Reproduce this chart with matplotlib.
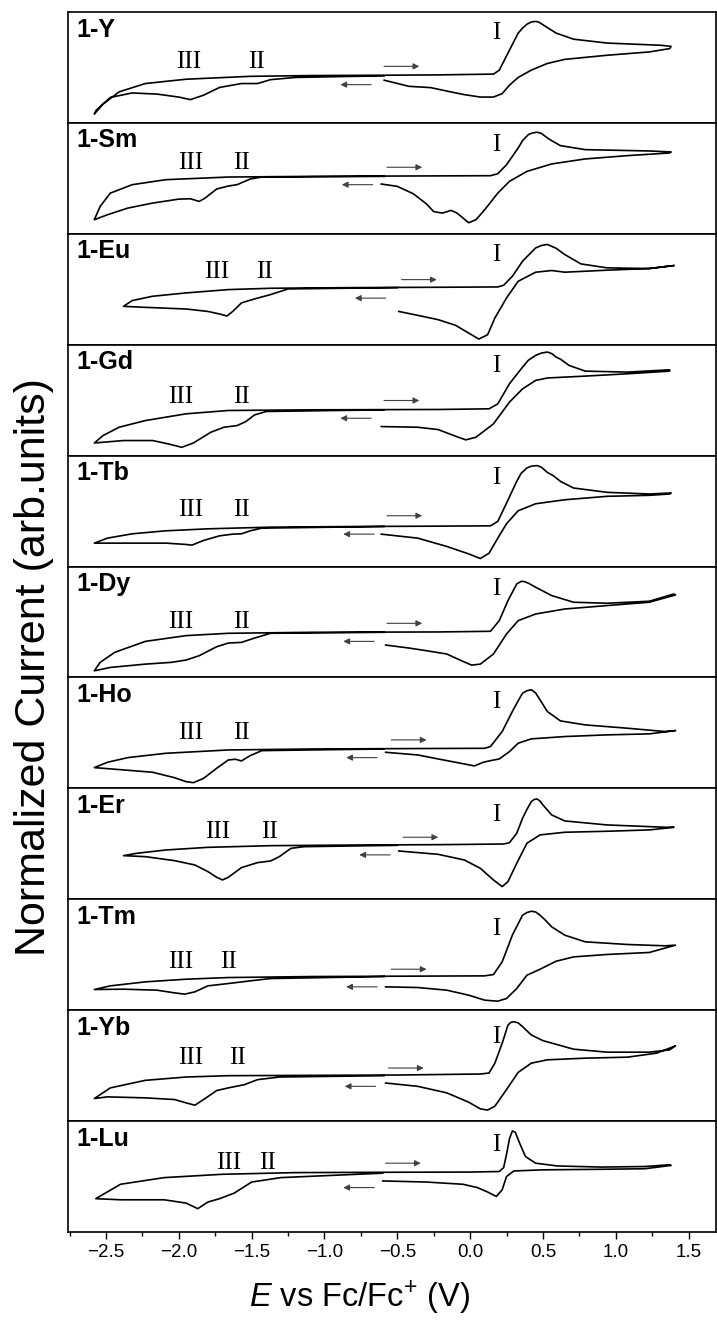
"""
Cyclic voltammograms of the 1-Ln series, stacked panels.
Currents are read off the reference picture, in panel units (0 = bottom, 1 = top).
"""

import matplotlib
matplotlib.use('Agg')
import matplotlib.pyplot as plt
from matplotlib.ticker import MultipleLocator

plt.rcParams['font.family'] = ['Liberation Sans', 'DejaVu Sans']
plt.rcParams['mathtext.fontset'] = 'custom'
plt.rcParams['mathtext.rm'] = 'Liberation Sans'
plt.rcParams['mathtext.it'] = 'Liberation Sans:italic'

names = ['1-Y', '1-Sm', '1-Eu', '1-Gd', '1-Tb', '1-Dy', '1-Ho', '1-Er', '1-Tm', '1-Yb', '1-Lu']

# each trace: start at the gap near -0.6 V, out to +1.4 V, back to -2.6 V, then up to -0.6 V
E_Y = [-0.59, -0.42, -0.27, -0.13, -0.04, 0.07, 0.16, 0.22, 0.27, 0.33, 0.42, 0.53, 0.65, 0.94, 1.23, 1.37,
       1.38, 1.31, 0.94, 0.71, 0.59, 0.53, 0.50, 0.47, 0.45, 0.42, 0.39, 0.36, 0.33, 0.26, 0.20, 0.16, -0.22, -0.59,
       -1.08, -1.51, -1.95, -2.23, -2.41, -2.52, -2.58,
       -2.57, -2.47, -2.32, -2.15, -2.00, -1.92, -1.83, -1.72, -1.57, -1.46, -1.37, -1.20, -0.79, -0.59]
I_Y = [0.385, 0.33, 0.318, 0.279, 0.255, 0.233, 0.233, 0.264, 0.34, 0.41, 0.476, 0.536, 0.573, 0.61, 0.64, 0.67,
       0.69, 0.70, 0.72, 0.755, 0.81, 0.86, 0.885, 0.91, 0.915, 0.91, 0.89, 0.855, 0.81, 0.63, 0.475, 0.44, 0.433,
       0.43, 0.427, 0.42, 0.394, 0.355, 0.28, 0.17, 0.08,
       0.11, 0.23, 0.27, 0.26, 0.233, 0.21, 0.25, 0.32, 0.355, 0.355, 0.39, 0.41, 0.42, 0.424]

E_Sm = [-0.61, -0.50, -0.39, -0.30, -0.25, -0.19, -0.13, -0.09, -0.01, 0.04, 0.10, 0.19, 0.27, 0.39, 0.56, 0.79,
        1.08, 1.37,
        1.38, 1.23, 0.79, 0.62, 0.56, 0.53, 0.49, 0.46, 0.43, 0.40, 0.36, 0.33, 0.25, 0.19, 0.14, -0.50, -1.08,
        -1.66, -2.09, -2.32, -2.47, -2.54, -2.58,
        -2.49, -2.35, -2.18, -2.00, -1.92, -1.86, -1.82, -1.74, -1.66, -1.60, -1.51, -1.43, -0.59]
I_Sm = [0.449, 0.428, 0.361, 0.27, 0.20, 0.187, 0.211, 0.187, 0.10, 0.127, 0.217, 0.367, 0.473, 0.563, 0.63, 0.675,
        0.705, 0.729,
        0.738, 0.747, 0.759, 0.795, 0.84, 0.865, 0.905, 0.916, 0.91, 0.895, 0.84, 0.774, 0.623, 0.542, 0.524, 0.521,
        0.518, 0.512, 0.488, 0.443, 0.367, 0.247, 0.127,
        0.172, 0.232, 0.277, 0.313, 0.316, 0.292, 0.322, 0.404, 0.431, 0.443, 0.494, 0.512, 0.518]

E_Eu = [-0.49, -0.36, -0.22, -0.10, -0.01, 0.06, 0.12, 0.17, 0.25, 0.33, 0.45, 0.56, 0.65, 0.94, 1.23, 1.40,
        1.23, 0.94, 0.76, 0.65, 0.59, 0.53, 0.49, 0.45, 0.36, 0.29, 0.23, 0.19, -0.22, -0.79, -1.37, -1.66, -1.95,
        -2.18, -2.32, -2.38,
        -2.23, -1.95, -1.80, -1.72, -1.67, -1.63, -1.57, -1.48, -1.37, -1.25, -0.50]
I_Eu = [0.30, 0.265, 0.226, 0.175, 0.105, 0.051, 0.09, 0.241, 0.422, 0.572, 0.654, 0.669, 0.654, 0.672, 0.687, 0.714,
        0.687, 0.693, 0.729, 0.813, 0.87, 0.904, 0.895, 0.873, 0.753, 0.617, 0.536, 0.521, 0.518, 0.515, 0.509,
        0.497, 0.467, 0.437, 0.398, 0.346,
        0.337, 0.322, 0.30, 0.277, 0.259, 0.30, 0.377, 0.413, 0.452, 0.503, 0.515]

E_Gd = [-0.61, -0.36, -0.22, -0.10, -0.03, 0.04, 0.16, 0.27, 0.36, 0.45, 0.53, 0.79, 1.08, 1.37,
        1.37, 1.08, 0.79, 0.68, 0.62, 0.59, 0.56, 0.53, 0.49, 0.45, 0.40, 0.36, 0.27, 0.19, 0.13, -0.22, -1.08,
        -1.66, -1.95, -2.23, -2.41, -2.52, -2.58,
        -2.38, -2.18, -2.07, -1.98, -1.90, -1.78, -1.69, -1.60, -1.54, -1.48, -1.40, -0.59]
I_Gd = [0.262, 0.256, 0.235, 0.175, 0.142, 0.166, 0.286, 0.482, 0.602, 0.678, 0.70, 0.717, 0.738, 0.762,
        0.774, 0.753, 0.762, 0.813, 0.87, 0.889, 0.92, 0.934, 0.925, 0.904, 0.86, 0.798, 0.648, 0.467, 0.422, 0.416,
        0.413, 0.407, 0.377, 0.316, 0.256, 0.181, 0.114,
        0.136, 0.136, 0.105, 0.075, 0.114, 0.211, 0.256, 0.271, 0.307, 0.367, 0.398, 0.413]

E_Tb = [-0.61, -0.36, -0.16, -0.01, 0.07, 0.13, 0.19, 0.25, 0.33, 0.45, 0.65, 0.94, 1.23, 1.37,
        1.38, 1.23, 0.94, 0.71, 0.62, 0.57, 0.53, 0.49, 0.46, 0.42, 0.39, 0.35, 0.32, 0.25, 0.19, 0.14, -0.22,
        -0.79, -1.37, -1.80, -2.09, -2.32, -2.49, -2.58,
        -2.38, -2.09, -1.95, -1.91, -1.83, -1.72, -1.63, -1.57, -1.51, -1.43, -0.59]
I_Tb = [0.292, 0.256, 0.181, 0.114, 0.072, 0.12, 0.256, 0.386, 0.503, 0.566, 0.602, 0.633, 0.642, 0.654,
        0.663, 0.654, 0.669, 0.708, 0.768, 0.82, 0.849, 0.895, 0.910, 0.905, 0.889, 0.84, 0.768, 0.572, 0.407,
        0.367, 0.364, 0.361, 0.355, 0.34, 0.322, 0.295, 0.256, 0.211,
        0.211, 0.211, 0.199, 0.193, 0.235, 0.277, 0.292, 0.295, 0.322, 0.346, 0.361]

E_Dy = [-0.58, -0.42, -0.30, -0.16, -0.07, 0.01, 0.07, 0.16, 0.25, 0.33, 0.45, 0.65, 0.94, 1.23, 1.41,
        1.40, 1.23, 0.94, 0.71, 0.56, 0.45, 0.40, 0.37, 0.35, 0.32, 0.26, 0.20, 0.14, -0.22, -1.08, -1.66, -1.95,
        -2.23, -2.44, -2.54, -2.58,
        -2.47, -2.23, -2.05, -1.95, -1.86, -1.74, -1.66, -1.57, -1.48, -1.37, -0.59]
I_Dy = [0.292, 0.265, 0.241, 0.211, 0.157, 0.111, 0.12, 0.211, 0.392, 0.512, 0.572, 0.617, 0.648, 0.678, 0.744,
        0.753, 0.687, 0.669, 0.678, 0.738, 0.813, 0.85, 0.865, 0.866, 0.843, 0.693, 0.512, 0.416, 0.41, 0.407,
        0.398, 0.377, 0.325, 0.226, 0.136, 0.06,
        0.09, 0.12, 0.136, 0.157, 0.196, 0.277, 0.31, 0.316, 0.355, 0.398, 0.407]

E_Ho = [-0.58, -0.36, -0.22, -0.10, 0.03, 0.09, 0.13, 0.20, 0.27, 0.33, 0.42, 0.65, 0.94, 1.23, 1.41,
        1.34, 1.08, 0.79, 0.62, 0.53, 0.48, 0.45, 0.42, 0.39, 0.36, 0.33, 0.29, 0.22, 0.14, 0.10, -0.50, -1.08,
        -1.66, -2.09, -2.35, -2.49, -2.58,
        -2.38, -2.18, -2.03, -1.95, -1.90, -1.83, -1.74, -1.66, -1.61, -1.57, -1.51, -1.43, -0.59]
I_Ho = [0.325, 0.301, 0.265, 0.235, 0.202, 0.235, 0.247, 0.265, 0.331, 0.407, 0.446, 0.467, 0.482, 0.491, 0.521,
        0.512, 0.542, 0.572, 0.608, 0.693, 0.798, 0.86, 0.889, 0.88, 0.858, 0.79, 0.693, 0.512, 0.377, 0.361, 0.358,
        0.355, 0.346, 0.316, 0.277, 0.235, 0.187,
        0.166, 0.145, 0.096, 0.06, 0.051, 0.09, 0.181, 0.256, 0.262, 0.247, 0.295, 0.34, 0.355]

E_Er = [-0.49, -0.22, -0.04, 0.07, 0.16, 0.22, 0.26, 0.32, 0.39, 0.48, 0.65, 0.94, 1.23, 1.40,
        1.34, 0.94, 0.65, 0.56, 0.52, 0.50, 0.48, 0.46, 0.44, 0.42, 0.39, 0.36, 0.32, 0.27, 0.23, -0.22, -0.79,
        -1.37, -1.80, -2.09, -2.29, -2.38,
        -2.23, -2.03, -1.89, -1.80, -1.74, -1.70, -1.66, -1.57, -1.46, -1.37, -1.31, -1.23, -1.14, -0.50]
I_Er = [0.435, 0.405, 0.354, 0.279, 0.174, 0.114, 0.159, 0.324, 0.505, 0.58, 0.604, 0.613, 0.625, 0.649,
        0.649, 0.67, 0.706, 0.76, 0.82, 0.85, 0.885, 0.904, 0.90, 0.88, 0.81, 0.73, 0.595, 0.51, 0.498, 0.492,
        0.489, 0.483, 0.468, 0.444, 0.414, 0.393,
        0.384, 0.348, 0.309, 0.249, 0.198, 0.174, 0.198, 0.285, 0.33, 0.345, 0.384, 0.459, 0.474, 0.486]

E_Tm = [-0.58, -0.36, -0.16, -0.01, 0.10, 0.19, 0.25, 0.32, 0.39, 0.48, 0.59, 0.71, 0.94, 1.23, 1.41,
        1.34, 1.08, 0.79, 0.65, 0.56, 0.51, 0.48, 0.45, 0.42, 0.39, 0.36, 0.33, 0.29, 0.22, 0.16, 0.10, -0.50,
        -1.08, -1.66, -1.95, -2.23, -2.47, -2.58,
        -2.38, -2.15, -2.03, -1.96, -1.89, -1.80, -1.66, -1.51, -1.37, -0.59]
I_Tm = [0.21, 0.204, 0.18, 0.135, 0.09, 0.081, 0.105, 0.195, 0.315, 0.369, 0.441, 0.48, 0.502, 0.52, 0.586,
        0.58, 0.592, 0.616, 0.676, 0.751, 0.82, 0.856, 0.885, 0.892, 0.88, 0.856, 0.78, 0.676, 0.435, 0.321, 0.309,
        0.306, 0.303, 0.294, 0.279, 0.255, 0.219, 0.186,
        0.189, 0.18, 0.156, 0.144, 0.165, 0.219, 0.24, 0.264, 0.285, 0.303]

E_Yb = [-0.58, -0.36, -0.16, -0.01, 0.07, 0.12, 0.17, 0.25, 0.33, 0.42, 0.53, 0.79, 1.08, 1.28, 1.41,
        1.37, 1.23, 0.94, 0.71, 0.50, 0.42, 0.36, 0.33, 0.30, 0.28, 0.26, 0.22, 0.17, 0.13, 0.07, -0.50, -1.08,
        -1.66, -1.95, -2.23, -2.47, -2.58,
        -2.49, -2.23, -2.03, -1.95, -1.89, -1.83, -1.74, -1.66, -1.55, -1.46, -1.31, -0.59]
I_Yb = [0.343, 0.313, 0.254, 0.17, 0.11, 0.099, 0.134, 0.284, 0.439, 0.522, 0.552, 0.567, 0.576, 0.612, 0.678,
        0.642, 0.621, 0.621, 0.648, 0.725, 0.776, 0.851, 0.885, 0.896, 0.89, 0.866, 0.701, 0.522, 0.433, 0.424,
        0.415, 0.412, 0.409, 0.397, 0.367, 0.299, 0.203,
        0.218, 0.209, 0.194, 0.164, 0.143, 0.194, 0.275, 0.299, 0.328, 0.373, 0.397, 0.409]

E_Lu = [-0.60, -0.30, -0.05, 0.05, 0.12, 0.18, 0.22, 0.25, 0.30, 0.50, 0.90, 1.20, 1.38,
        1.36, 1.20, 0.90, 0.60, 0.45, 0.38, 0.34, 0.31, 0.29, 0.27, 0.25, 0.23, 0.20, 0.0, -0.6, -1.2, -1.7, -2.1,
        -2.4, -2.57,
        -2.4, -2.1, -1.95, -1.87, -1.80, -1.72, -1.62, -1.50, -1.30, -0.60]
I_Lu = [0.46, 0.45, 0.43, 0.40, 0.36, 0.32, 0.38, 0.50, 0.55, 0.56, 0.565, 0.57, 0.60,
        0.605, 0.59, 0.585, 0.595, 0.62, 0.68, 0.80, 0.90, 0.91, 0.84, 0.70, 0.58, 0.545, 0.54, 0.538, 0.535, 0.52,
        0.49, 0.43, 0.30,
        0.29, 0.29, 0.26, 0.21, 0.27, 0.30, 0.35, 0.45, 0.49, 0.53]

traces = [(E_Y, I_Y), (E_Sm, I_Sm), (E_Eu, I_Eu), (E_Gd, I_Gd), (E_Tb, I_Tb), (E_Dy, I_Dy),
          (E_Ho, I_Ho), (E_Er, I_Er), (E_Tm, I_Tm), (E_Yb, I_Yb), (E_Lu, I_Lu)]

# wave labels and scan-direction arrows
x_III = [-1.93, -1.92, -1.74, -1.99, -1.92, -1.99, -1.92, -1.73, -1.99, -1.92, -1.66]
x_II = [-1.47, -1.57, -1.41, -1.57, -1.57, -1.57, -1.57, -1.38, -1.66, -1.60, -1.39]
y_roman = [0.55, 0.64, 0.66, 0.53, 0.51, 0.50, 0.50, 0.61, 0.435, 0.567, 0.62]
y_I = [0.81, 0.80, 0.81, 0.81, 0.80, 0.80, 0.78, 0.76, 0.736, 0.76, 0.78]
x_arr_r = [-0.61, -0.59, -0.49, -0.61, -0.59, -0.59, -0.56, -0.48, -0.56, -0.58, -0.60]
y_arr_r = [0.51, 0.60, 0.587, 0.497, 0.458, 0.488, 0.437, 0.559, 0.369, 0.478, 0.62]
x_arr_l = [-0.66, -0.65, -0.56, -0.66, -0.64, -0.64, -0.62, -0.53, -0.62, -0.63, -0.64]
y_arr_l = [0.345, 0.443, 0.42, 0.337, 0.292, 0.325, 0.277, 0.40, 0.21, 0.313, 0.40]

fig = plt.figure(figsize=(7.17, 13.34), dpi=100)
axes = fig.subplots(len(names), 1, sharex=True, gridspec_kw=dict(hspace=0))
fig.subplots_adjust(left=0.095, right=0.999, top=0.991, bottom=0.0765)

for i, ax in enumerate(axes):
    E, I = traces[i]
    ax.plot(E, I, color='black', lw=1.2, solid_joinstyle='round')
    ax.set_xlim(-2.76, 1.69)
    ax.set_ylim(0, 1)
    ax.set_yticks([])
    for sp in ax.spines.values():
        sp.set_linewidth(1.2)
    ax.text(0.012, 0.95, names[i], transform=ax.transAxes, ha='left', va='top',
            fontsize=18, fontweight='bold')
    ax.text(x_III[i], y_roman[i], 'III', ha='center', va='center', fontsize=18, family='Liberation Serif')
    ax.text(x_II[i], y_roman[i], 'II', ha='center', va='center', fontsize=18, family='Liberation Serif')
    ax.text(0.18, y_I[i], 'I', ha='center', va='center', fontsize=18, family='Liberation Serif')
    ax.annotate('', xy=(x_arr_r[i] + 0.28, y_arr_r[i]), xytext=(x_arr_r[i], y_arr_r[i]),
                arrowprops=dict(arrowstyle='-|>', color='0.25', lw=0.8, mutation_scale=9))
    ax.annotate('', xy=(x_arr_l[i] - 0.25, y_arr_l[i]), xytext=(x_arr_l[i], y_arr_l[i]),
                arrowprops=dict(arrowstyle='-|>', color='0.25', lw=0.8, mutation_scale=9))
    if i < len(names) - 1:
        ax.tick_params(axis='x', bottom=False, labelbottom=False)

ax = axes[-1]
ax.xaxis.set_major_locator(MultipleLocator(0.5))
ax.xaxis.set_minor_locator(MultipleLocator(0.25))
ax.tick_params(axis='x', which='major', direction='out', length=5, width=1, labelsize=13.5, pad=4)
ax.tick_params(axis='x', which='minor', direction='out', length=3, width=1)
ax.set_xlabel('$E$ vs Fc/Fc$^{+}$ (V)', fontsize=23.5, labelpad=8)
ax.xaxis.set_label_coords(0.45, -0.42)

fig.text(0.047, 0.5, 'Normalized Current (arb.units)', rotation=90, ha='center', va='center', fontsize=31)

fig.savefig('out.png', dpi=100)
